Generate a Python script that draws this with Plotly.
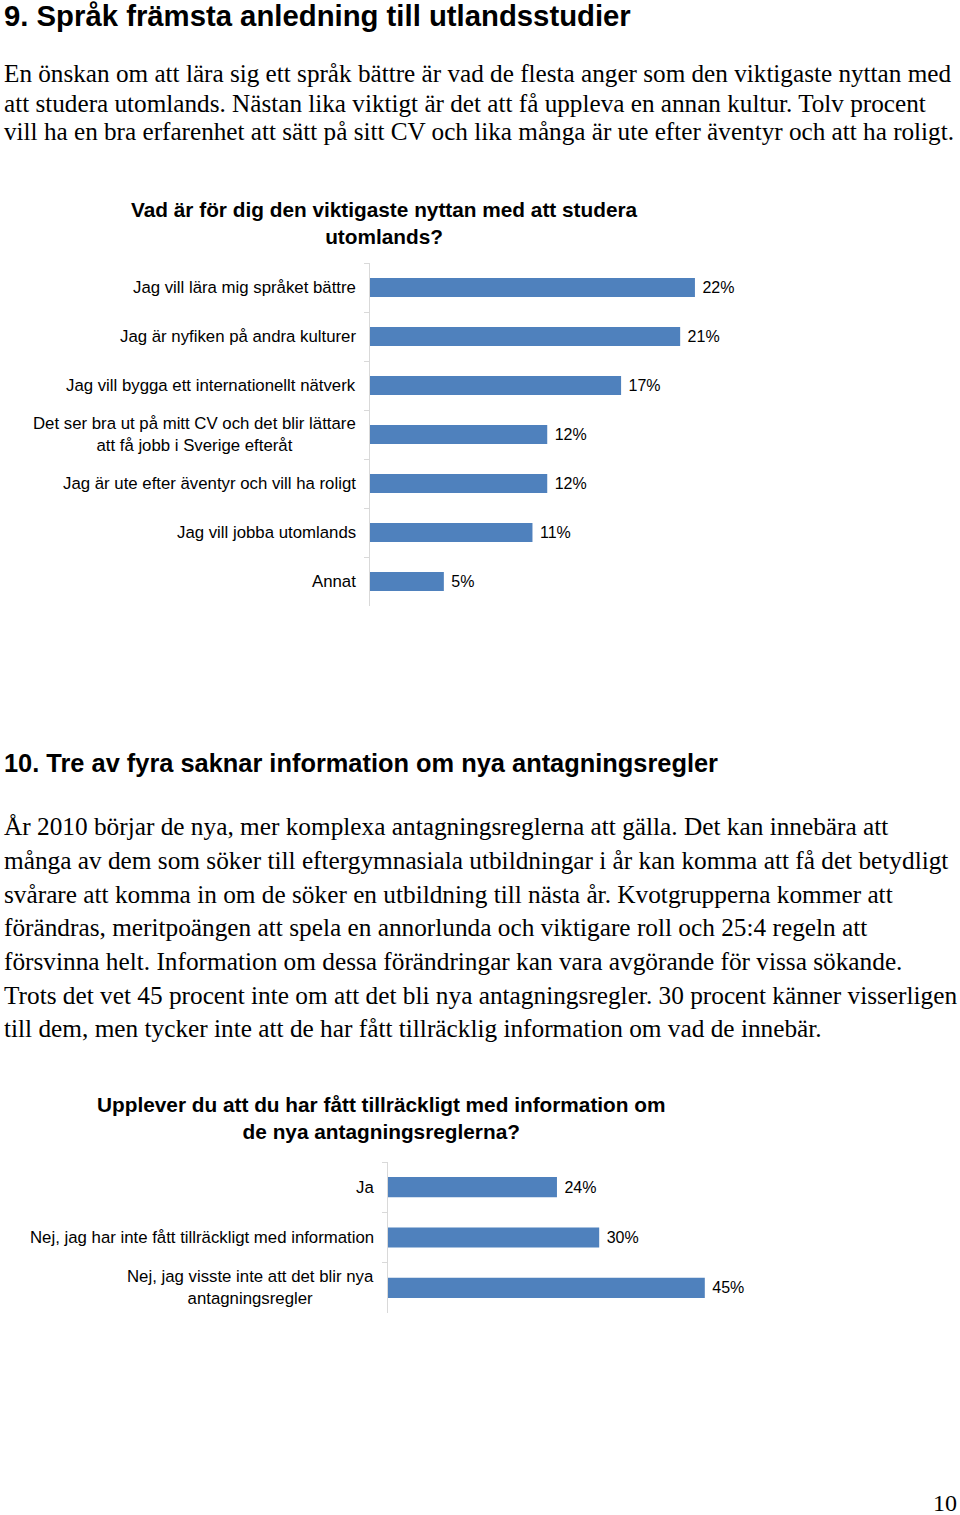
import plotly.graph_objects as go

W, H = 960, 1515

# ---------- data ----------
cats1 = [
    "Jag vill lära mig språket bättre",
    "Jag är nyfiken på andra kulturer",
    "Jag vill bygga ett internationellt nätverk",
    "Det ser bra ut på mitt CV och det blir lättare<br>att få jobb i Sverige efteråt",
    "Jag är ute efter äventyr och vill ha roligt",
    "Jag vill jobba utomlands",
    "Annat",
]
vals1 = [22, 21, 17, 12, 12, 11, 5]

cats2 = [
    "Ja",
    "Nej, jag har inte fått tillräckligt med information",
    "Nej, jag visste inte att det blir nya<br>antagningsregler",
]
vals2 = [24, 30, 45]

title1 = "Vad är för dig den viktigaste nyttan med att studera<br>utomlands?"
title2 = "Upplever du att du har fått tillräckligt med information om<br>de nya antagningsreglerna?"

heading1 = "9. Språk främsta anledning till utlandsstudier"
para1 = [
    "En önskan om att lära sig ett språk bättre är vad de flesta anger som den viktigaste nyttan med",
    "att studera utomlands. Nästan lika viktigt är det att få uppleva en annan kultur. Tolv procent",
    "vill ha en bra erfarenhet att sätt på sitt CV och lika många är ute efter äventyr och att ha roligt.",
]
heading2 = "10. Tre av fyra saknar information om nya antagningsregler"
para2 = [
    "År 2010 börjar de nya, mer komplexa antagningsreglerna att gälla. Det kan innebära att",
    "många av dem som söker till eftergymnasiala utbildningar i år kan komma att få det betydligt",
    "svårare att komma in om de söker en utbildning till nästa år. Kvotgrupperna kommer att",
    "förändras, meritpoängen att spela en annorlunda och viktigare roll och 25:4 regeln att",
    "försvinna helt. Information om dessa förändringar kan vara avgörande för vissa sökande.",
    "Trots det vet 45 procent inte om att det bli nya antagningsregler. 30 procent känner visserligen",
    "till dem, men tycker inte att de har fått tillräcklig information om vad de innebär.",
]
page_no = "10"

# ---------- helpers ----------
def px(x):
    return x / W

def py(y):
    return 1 - y / H

BLUE = "#4F81BD"
SANS = "Liberation Sans, Arial, sans-serif"
SERIF = "Liberation Serif, Times New Roman, serif"

fig = go.Figure()

fig.add_trace(go.Bar(
    x=vals1, y=cats1, orientation="h", xaxis="x", yaxis="y",
    marker=dict(color=BLUE, line=dict(width=0)), width=0.39,
    text=[f" {v}%" for v in vals1], textposition="outside",
    textfont=dict(family=SANS, size=16, color="black"),
    cliponaxis=False, hoverinfo="skip",
))
fig.add_trace(go.Bar(
    x=vals2, y=cats2, orientation="h", xaxis="x2", yaxis="y2",
    marker=dict(color=BLUE, line=dict(width=0)), width=0.40,
    text=[f" {v}%" for v in vals2], textposition="outside",
    textfont=dict(family=SANS, size=16, color="black"),
    cliponaxis=False, hoverinfo="skip",
))

axis_common = dict(showgrid=False, zeroline=False, showticklabels=False, fixedrange=True)
ycommon = dict(showline=True, linecolor="#D9D9D9", linewidth=1, ticks="outside",
               ticklen=5, tickcolor="#D9D9D9", tickson="boundaries",
               showticklabels=False, showgrid=False, zeroline=False,
               autorange="reversed", type="category", fixedrange=True)

fig.update_layout(
    width=W, height=H, margin=dict(l=0, r=0, t=0, b=0),
    paper_bgcolor="white", plot_bgcolor="white", showlegend=False,
    xaxis=dict(domain=[px(370), 1.0], range=[0, 590 / 14.77], anchor="y", **axis_common),
    yaxis=dict(domain=[py(606), py(263)], anchor="x", **ycommon),
    xaxis2=dict(domain=[px(388), 1.0], range=[0, 572 / 7.04], anchor="y2", **axis_common),
    yaxis2=dict(domain=[py(1313), py(1162)], anchor="x2", **ycommon),
)

ann = []
def add_text(text, x, y, size, family, bold=False, xanchor="left", align="left", yanchor="middle"):
    if bold:
        text = f"<b>{text}</b>"
    ann.append(dict(text=text, x=px(x), y=py(y), xref="paper", yref="paper",
                    xanchor=xanchor, yanchor=yanchor, align=align, showarrow=False,
                    font=dict(family=family, size=size, color="black")))

add_text(heading1, 2, 16, 29.3, SANS, bold=True)
for i, line in enumerate(para1):
    add_text(line, 2, 74 + i * 29, 25.2, SERIF)
add_text(title1, 384, 222.5, 20.8, SANS, bold=True, xanchor="center", align="center")

add_text(heading2, 2, 763, 25.4, SANS, bold=True)
py2 = [826, 860, 894, 927, 961, 995, 1028]
for line, yy in zip(para2, py2):
    add_text(line, 2, yy, 25.3, SERIF)
add_text(title2, 381, 1117.5, 20.8, SANS, bold=True, xanchor="center", align="center")

add_text(page_no, 959, 1503, 24, SERIF, xanchor="right")

# category labels, placed on the category axes
for c in cats1:
    ann.append(dict(text=c, x=px(358), y=c, xref="paper", yref="y", xanchor="right",
                    yanchor="middle", align="center", showarrow=False,
                    font=dict(family=SANS, size=16.8, color="black")))
for c in cats2:
    ann.append(dict(text=c, x=px(376), y=c, xref="paper", yref="y2", xanchor="right",
                    yanchor="middle", align="center", showarrow=False,
                    font=dict(family=SANS, size=16.8, color="black")))

fig.update_layout(annotations=ann)
fig.write_html("out.html", config={"displayModeBar": False},
               post_script="document.body.style.margin='0px';")
